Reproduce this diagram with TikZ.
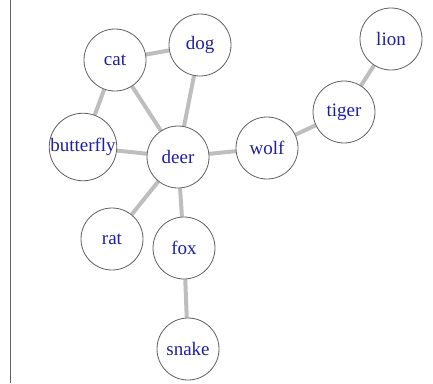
\documentclass[tikz,border=0pt]{standalone}
\usepackage{fontspec}
\setmainfont{Liberation Serif}
\usepackage{tikz}
\usetikzlibrary{backgrounds}
\definecolor{labelblue}{RGB}{30,30,165}
\definecolor{edgegray}{RGB}{190,190,190}
\definecolor{ringgray}{RGB}{95,95,95}
\begin{document}
\begin{tikzpicture}[x=1pt,y=-1pt,
	animal/.style={circle,draw=ringgray,line width=0.8pt,fill=white,minimum size=62pt,inner sep=0pt,
		text=labelblue,font=\fontsize{19}{21}\selectfont},
	link/.style={draw=edgegray,line width=4pt}]

	\useasboundingbox (0,0) rectangle (433,383);
	\draw[ringgray,line width=1.3pt] (10.5,0) -- (10.5,383);

	%\node[animal] at (115,60) {cat};
	\node[animal] (cat) at (115,60) {cat};
	\node[animal] (dog) at (200,45) {dog};
	\node[animal] (butterfly) at (83,147) {butterfly};
	\node[animal] (deer) at (178,157) {deer};
	\node[animal] (wolf) at (267,148) {wolf};
	\node[animal] (tiger) at (344,112) {tiger};
	\node[animal] (lion) at (391,39) {lion};
	\node[animal] (rat) at (112,239) {rat};
	\node[animal] (fox) at (184,248) {fox};
	\node[animal] (snake) at (188,349) {snake};

	\begin{scope}[on background layer]
		\draw[link] (cat) -- (dog);
		\draw[link] (cat) -- (butterfly);
		\draw[link] (cat) -- (deer);
		\draw[link] (dog) -- (deer);
		\draw[link] (butterfly) -- (deer);
		\draw[link] (deer) -- (wolf);
		\draw[link] (deer) -- (rat);
		\draw[link] (deer) -- (fox);
		\draw[link] (fox) -- (snake);
		\draw[link] (wolf) -- (tiger);
		\draw[link] (tiger) -- (lion);
	\end{scope}
\end{tikzpicture}
\end{document}
